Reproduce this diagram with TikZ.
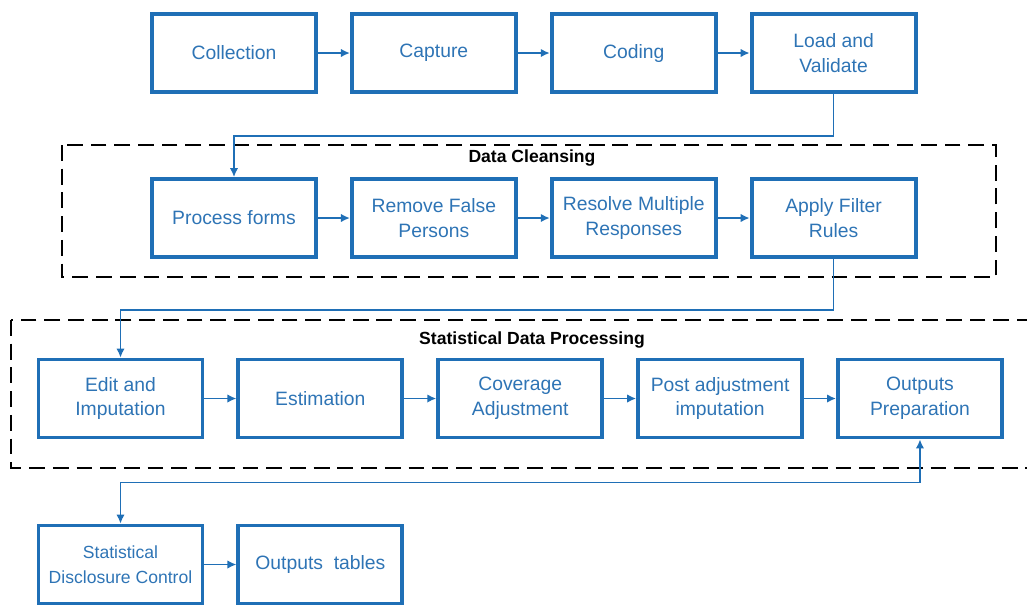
\documentclass[tikz,border=0pt]{standalone}
\usepackage{fontspec}
\setmainfont{Liberation Sans}
\usepackage{tikz}
\usetikzlibrary{arrows.meta,positioning,calc}
\usepackage{xcolor}
\definecolor{boxline}{HTML}{1F6FB6}
\definecolor{boxtext}{HTML}{2E74B5}
\tikzset{
  stage/.style={draw=boxline,line width=2.2pt,align=center,
    minimum width=3.28cm,minimum height=1.56cm,text=boxtext,
    font=\fontsize{11}{14}\selectfont},
  arrow/.style={-{Latex[length=1.8mm,width=1.7mm]},draw=boxline,line width=1pt},
  twoway/.style={{Latex[length=1.8mm,width=1.7mm]}-{Latex[length=1.8mm,width=1.7mm]},draw=boxline,line width=1pt},
  group/.style={draw=black,line width=1.6pt,dash pattern=on 9pt off 4.5pt},
  grouptitle/.style={font=\bfseries\fontsize{10}{12}\selectfont,text=black}
}
\begin{document}
\begin{tikzpicture}[node distance=0.64cm]
  \useasboundingbox (0,0) rectangle (20.54,-12.14);
  % groups
  \draw[group] (1.24,-2.9) rectangle (19.92,-5.54);
  \node[grouptitle] (dctitle) at (10.64,-3.16) {Data Cleansing};
  \draw[group] (0.22,-6.4) rectangle (21,-9.36);
  \node[grouptitle] (sdptitle) at (10.64,-6.8) {Statistical Data Processing};
  % first row
  \node[stage] (coll) at (4.68,-1.06) {Collection};
  \node[stage,right=of coll] (capt) {Capture};
  \node[stage,right=of capt] (codi) {Coding};
  \node[stage,right=of codi] (load) {Load and\\Validate};
  % data cleansing
  \node[stage] (proc) at (4.68,-4.36) {Process forms};
  \node[stage,right=of proc] (false) {Remove False\\Persons};
  \node[stage,right=of false] (multi) {Resolve Multiple\\Responses};
  \node[stage,right=of multi] (filt) {Apply Filter\\Rules};
  % statistical data processing
  \node[stage] (edit) at (2.41,-7.97) {Edit and\\Imputation};
  \node[stage,right=of edit] (esti) {Estimation};
  \node[stage,right=of esti] (cove) {Coverage\\Adjustment};
  \node[stage,right=of cove] (post) {Post adjustment\\imputation};
  \node[stage,right=of post] (prep) {Outputs\\Preparation};
  % last row
  \node[stage,font=\fontsize{10}{14}\selectfont] (sdc) at (2.41,-11.29) {Statistical\\Disclosure Control};
  \node[stage,right=of sdc] (tabl) {Outputs~~tables};
  \draw[arrow] (coll)--(capt);
  \draw[arrow] (capt)--(codi);
  \draw[arrow] (codi)--(load);
  \draw[arrow] (load.south) -- ++(0,-0.84) -| (proc.north);
  \draw[arrow] (proc)--(false);
  \draw[arrow] (false)--(multi);
  \draw[arrow] (multi)--(filt);
  \draw[arrow] (filt.south) -- ++(0,-1.02) -| (edit.north);
  \draw[arrow] (edit)--(esti);
  \draw[arrow] (esti)--(cove);
  \draw[arrow] (cove)--(post);
  \draw[arrow] (post)--(prep);
  \draw[twoway] (prep.south) -- ++(0,-0.86) -| (sdc.north);
  \draw[arrow] (sdc)--(tabl);
\end{tikzpicture}
\end{document}
